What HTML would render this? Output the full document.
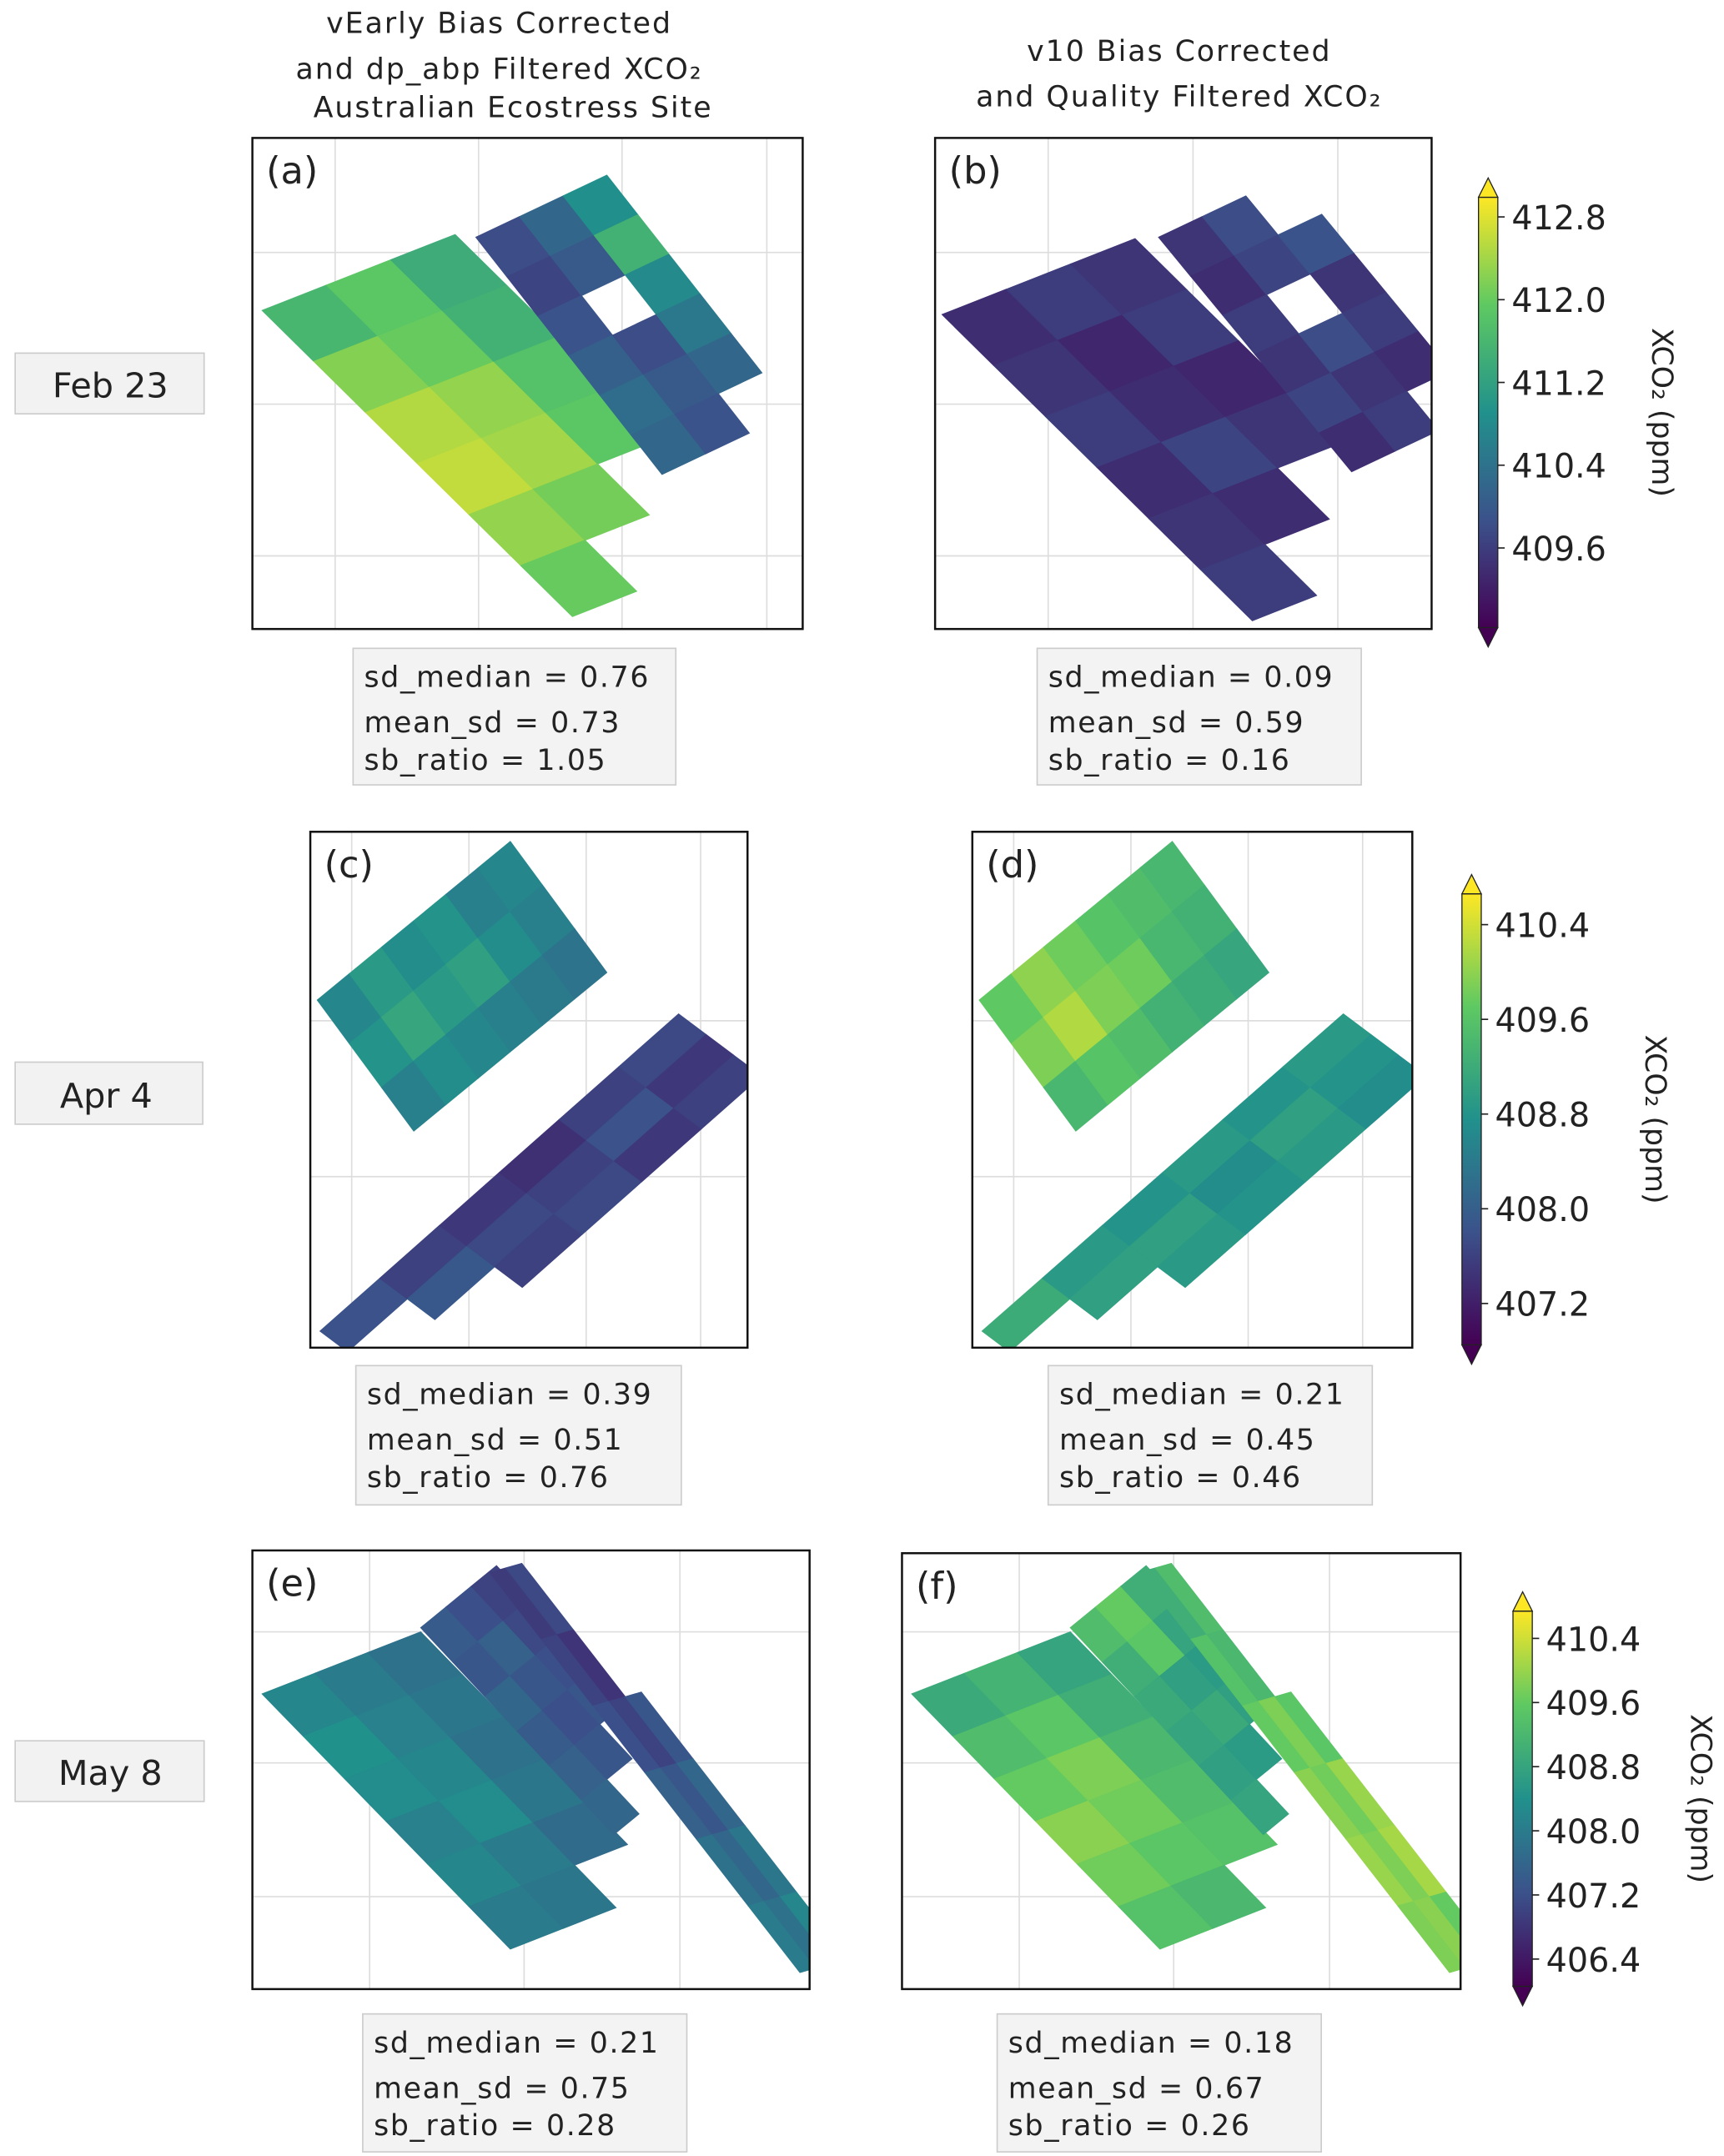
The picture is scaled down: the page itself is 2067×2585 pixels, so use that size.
<!DOCTYPE html>
<html><head><meta charset="utf-8"><style>
html,body{margin:0;padding:0;background:#fff}
svg{display:block}
text{font-family:"DejaVu Sans","Liberation Sans",sans-serif;fill:#222}
</style></head><body>
<svg id="fig" width="2067" height="2585" viewBox="0 0 1250 1563" preserveAspectRatio="none" xmlns="http://www.w3.org/2000/svg">
<defs>
<linearGradient id="vir" x1="0" y1="1" x2="0" y2="0">
<stop offset="0" stop-color="#440154"/><stop offset="0.25" stop-color="#3b528b"/><stop offset="0.5" stop-color="#21918c"/><stop offset="0.75" stop-color="#5ec962"/><stop offset="1" stop-color="#fde725"/>
</linearGradient>
<clipPath id="cpa"><rect x="183" y="100" width="399" height="356"/></clipPath>
<clipPath id="cpb"><rect x="678" y="100" width="360" height="356"/></clipPath>
<clipPath id="cpc"><rect x="225" y="603" width="317" height="374"/></clipPath>
<clipPath id="cpd"><rect x="705" y="603" width="319" height="374"/></clipPath>
<clipPath id="cpe"><rect x="183" y="1124" width="404" height="318"/></clipPath>
<clipPath id="cpf"><rect x="654" y="1126" width="405" height="316"/></clipPath>
</defs>
<g font-size="21" text-anchor="middle" letter-spacing="1.2">
<text x="362" y="24">vEarly Bias Corrected</text>
<text x="362" y="57">and dp_abp Filtered XCO₂</text>
<text x="372" y="85">Australian Ecostress Site</text>
<text x="855" y="44">v10 Bias Corrected</text>
<text x="855" y="77">and Quality Filtered XCO₂</text>
</g>
<g font-size="25">
<rect x="11" y="256" width="137" height="44" fill="#f2f2f2" stroke="#ccc"/><text x="80" y="288" text-anchor="middle">Feb 23</text>
<rect x="11" y="770" width="136" height="45" fill="#f2f2f2" stroke="#ccc"/><text x="77" y="803" text-anchor="middle">Apr 4</text>
<rect x="11" y="1262" width="137" height="44" fill="#f2f2f2" stroke="#ccc"/><text x="80" y="1294" text-anchor="middle">May 8</text>
</g>
<g id="panels"></g>
<g id="cbars"></g>
<g id="stats" font-size="21" letter-spacing="1"></g>
</svg>
<script>
const NS="http://www.w3.org/2000/svg";
// ---- data ----
const a1=[[411.6,411.9,411.4],[412.2,412.0,411.5],[412.5,412.3,411.8],[412.6,412.4,411.9],[412.3,412.1,null],[412.0,null,null]];
const a2=[[409.8,410.2,410.9],[409.7,410.0,411.5],[409.9,null,410.8],[410.1,409.8,410.5],[410.3,410.0,410.2],[410.2,409.9,null]];
const b1=[[409.4,409.6,409.5],[409.5,409.3,409.6],[409.6,409.4,409.3],[409.4,409.7,409.5],[409.5,409.4,null],[409.6,null,null]];
const b2=[[409.5,409.8,null],[409.4,409.7,409.9],[409.6,null,409.5],[409.5,409.8,409.6],[409.7,409.5,409.4],[409.4,409.6,null]];
const c1=[[408.6,408.8,408.5],[408.9,409.1,408.7],[408.7,408.9,408.6],[408.8,409.0,408.5],[408.5,408.7,408.4],[408.6,408.5,408.3]];
const c2=[[407.8,null,null],[407.6,407.9,null],[407.5,407.7,407.6],[407.4,407.6,407.7],[407.6,407.8,407.5],[407.7,407.5,407.6]];
const d1=[[409.7,409.9,409.4],[410.0,410.2,409.6],[409.8,409.9,409.5],[409.6,409.8,409.3],[409.5,409.4,409.2],[409.4,409.3,409.1]];
const d2=[[409.2,null,null],[408.9,409.0,null],[408.8,409.0,408.9],[408.9,408.7,408.8],[408.8,409.0,408.9],[408.9,408.8,408.7]];
const e1=[[408.2,408.0,407.8],[408.4,408.1,407.9],[408.3,408.2,407.8],[408.1,408.3,407.9],[408.2,408.0,407.7],[408.0,407.9,null]];
const e2=[[407.4,407.2,407.0],[407.3,407.5,407.1],[407.6,407.3,407.2],[407.4,407.2,407.3],[407.5,407.3,null],[407.6,null,null]];
const e3=[[406.9,407.1,null],[407.0,406.8,null],[407.2,407.0,407.3],[407.5,407.3,407.6],[407.8,407.6,407.9],[408.0,407.8,408.2]];
const f1=[[408.9,409.1,408.8],[409.3,409.5,409.0],[409.6,409.8,409.2],[409.9,409.7,409.3],[409.7,409.5,409.4],[409.4,409.2,null]];
const f2=[[409.3,409.6,409.0],[409.0,409.5,408.8],[408.9,408.7,408.6],[408.8,408.9,408.7],[408.7,408.6,null],[408.8,null,null]];
const f3=[[409.0,409.3,null],[409.4,409.2,null],[409.6,409.8,409.5],[409.9,409.7,410.0],[410.0,409.8,410.1],[409.8,409.9,409.6]];
const ticks1=[412.8,412.0,411.2,410.4,409.6];
const ticks2=[410.4,409.6,408.8,408.0,407.2];
const ticks3=[410.4,409.6,408.8,408.0,407.2,406.4];
const statsLabels=["sd_median","mean_sd","sb_ratio"];
const statsA=[0.76,0.73,1.05], statsB=[0.09,0.59,0.16], statsC=[0.39,0.51,0.76], statsD=[0.21,0.45,0.46], statsE=[0.21,0.75,0.28], statsF=[0.18,0.67,0.26];

// ---- helpers ----
const stops=[[68,1,84],[59,82,139],[33,145,140],[94,201,98],[253,231,37]];
function viridis(t){t=Math.max(0,Math.min(1,t));const s=t*4,i=Math.min(3,Math.floor(s)),f=s-i;
 const c=stops[i].map((v,k)=>Math.round(v+(stops[i+1][k]-v)*f));return `rgb(${c})`;}
const rows=[{vmin:408.83,vmax:412.99,top:143,bot:455},{vmin:406.85,vmax:410.66,top:648,bot:975},{vmin:406.06,vmax:410.74,top:1168,bot:1440}];
function el(tag,attrs,parent){const e=document.createElementNS(NS,tag);for(const k in attrs)e.setAttribute(k,attrs[k]);parent.appendChild(e);return e;}
const panels=document.getElementById('panels');
function panel(id,box,row,vgrid,hgrid,swaths){
 const g=el('g',{},panels);
 
 
 const [x,y,w,h]=box;
 const inner=el('g',{'clip-path':`url(#cp${id})`},g);
 vgrid.forEach(v=>{const l=el('line',{x1:v,x2:v,y1:y,y2:y+h,stroke:'#ddd','stroke-width':1},inner);
  
  });
 hgrid.forEach(v=>{const l=el('line',{x1:x,x2:x+w,y1:v,y2:v,stroke:'#ddd','stroke-width':1},inner);
  
  });
 const R=rows[row];
 swaths.forEach(([vals,o,al,cr],si)=>{
  const na=vals.length,nc=vals[0].length;
  vals.forEach((r,i)=>r.forEach((v,j)=>{
   if(v===null)return;
   const p=(a,c)=>[o[0]+al[0]*a/na+cr[0]*c/nc,o[1]+al[1]*a/na+cr[1]*c/nc];
   const pts=[p(i,j),p(i+1,j),p(i+1,j+1),p(i,j+1)].map(q=>q.join(',')).join(' ');
   const col=viridis((v-R.vmin)/(R.vmax-R.vmin));
   const c=el('polygon',{points:pts,fill:col,stroke:col,'stroke-width':0.6},inner);
   
   
  }));
 });
 const fr=el('rect',{x,y,width:w,height:h,fill:'none',stroke:'#111','stroke-width':1.5},g);
 
 
 const t=el('text',{x:x+10,y:y+33,'font-size':27},g);t.textContent='('+id+')';
 
 
}
panel('a',[183,100,399,356],0,[243,347,451,556],[183,293,403],[[a1,[190,225],[225,222],[140,-55]],[a2,[345,172],[135,172],[95,-45]]]);
panel('b',[678,100,360,356],0,[760,865,970],[183,293,403],[[b1,[683,228],[225,222],[140,-55]],[b2,[840,172],[140,170],[95,-45]]]);
panel('c',[225,603,317,374],1,[255,340,425,508],[740,853],[[c1,[230,725],[140,-115],[70,95]],[c2,[232,965],[260,-230],[60,45]]]);
panel('d',[705,603,319,374],1,[735,820,905,988],[740,853],[[d1,[710,725],[140,-115],[70,95]],[d2,[712,965],[262,-230],[60,45]]]);
panel('e',[183,1124,404,318],2,[268,380,493],[1183,1278,1375],[[e1,[190,1228],[180,185],[115,-45]],[e2,[305,1180],[140,150],[55,-45]],[e3,[355,1140],[225,290],[35,-10]]]);
panel('f',[654,1126,405,316],2,[739,851,964],[1183,1278,1375],[[f1,[661,1228],[180,185],[115,-45]],[f2,[776,1180],[140,150],[55,-45]],[f3,[826,1140],[225,290],[35,-10]]]);

// ---- colorbars ----
const cb=document.getElementById('cbars');
function cbar(row,x,ticks,lx){
 const R=rows[row];const w=14;
 const g=el('g',{},cb);
 
 
 el('rect',{x,y:R.top,width:w,height:R.bot-R.top,fill:'url(#vir)',stroke:'#222','stroke-width':0.8},g);
 el('polygon',{points:`${x},${R.top} ${x+w},${R.top} ${x+w/2},${R.top-14}`,fill:'#fde725',stroke:'#222','stroke-width':0.8},g);
 el('polygon',{points:`${x},${R.bot} ${x+w},${R.bot} ${x+w/2},${R.bot+14}`,fill:'#440154',stroke:'#222','stroke-width':0.8},g);
 ticks.forEach(v=>{const yy=R.bot-(v-R.vmin)/(R.vmax-R.vmin)*(R.bot-R.top);
  el('line',{x1:x+w,x2:x+w+5,y1:yy,y2:yy,stroke:'#222'},g);
  const t=el('text',{x:x+w+10,y:yy+9,'font-size':24},g);t.textContent=v.toFixed(1);
  
  });
 const cy=(R.top+R.bot)/2;
 const t=el('text',{x:lx,y:cy,'font-size':21,'text-anchor':'middle',transform:`rotate(90 ${lx} ${cy})`},g);t.textContent='XCO₂ (ppm)';
 
 
}
cbar(0,1072,ticks1,1198);
cbar(1,1060,ticks2,1193);
cbar(2,1097,ticks3,1226);

// ---- stats boxes ----
const st=document.getElementById('stats');
function stats(x,y,w,h,vals,name){
 const g=el('g',{},st);
 
 
 el('rect',{x,y,width:w,height:h,fill:'#f3f3f3',stroke:'#ccc'},g);
 const ys=[y+28,y+61,y+88];
 vals.forEach((v,i)=>{const t=el('text',{x:x+8,y:ys[i],'xml:space':'preserve'},g);
  t.textContent=statsLabels[i]+' = '+v.toFixed(2);});
}
stats(256,470,234,99,statsA,'stats-box-a');
stats(752,470,235,99,statsB,'stats-box-b');
stats(258,990,236,101,statsC,'stats-box-c');
stats(760,990,235,101,statsD,'stats-box-d');
stats(263,1460,235,100,statsE,'stats-box-e');
stats(723,1460,235,100,statsF,'stats-box-f');
</script>
</body></html>
